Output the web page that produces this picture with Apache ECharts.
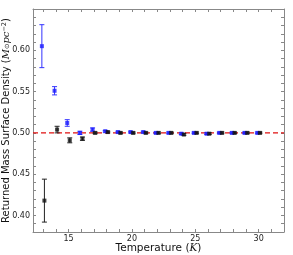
<!DOCTYPE html>
<html><head><meta charset="utf-8">
<script src="https://cdn.jsdelivr.net/npm/echarts@6/dist/echarts.min.js"></script>
<style>html,body{margin:0;padding:0;background:#fff}#c{width:293px;height:255px}</style>
</head><body><div id="c"></div>
<script>
// Data
var blueT   = [12.9,13.9,14.9,15.9,16.9,17.9,18.9,19.9,20.9,21.9,22.9,23.9,24.9,25.9,26.9,27.9,28.9,29.9];
var blueY   = [0.605,0.551,0.512,0.500,0.504,0.502,0.501,0.501,0.501,0.500,0.500,0.499,0.500,0.499,0.500,0.500,0.500,0.500];
var blueErr = [0.026,0.005,0.004,0.002,0.002,0.001,0.001,0.001,0.001,0.001,0.001,0.001,0.001,0.001,0.001,0.001,0.001,0.001];
var blackT   = [13.1,14.1,15.1,16.1,17.1,18.1,19.1,20.1,21.1,22.1,23.1,24.1,25.1,26.1,27.1,28.1,29.1,30.1];
var blackY   = [0.418,0.504,0.491,0.493,0.500,0.501,0.500,0.500,0.500,0.500,0.500,0.498,0.500,0.499,0.500,0.500,0.500,0.500];
var blackErr = [0.026,0.004,0.003,0.002,0.001,0.001,0.001,0.001,0.001,0.001,0.001,0.001,0.001,0.001,0.001,0.001,0.001,0.001];
var refLine = 0.5;
var xTicks = [13,14,15,16,17,18,19,20,21,22,23,24,25,26,27,28,29,30,31];
var xLabels = [15,20,25,30];
var yTicks = [0.39,0.40,0.41,0.42,0.43,0.44,0.45,0.46,0.47,0.48,0.49,0.50,0.51,0.52,0.53,0.54,0.55,0.56,0.57,0.58,0.59,0.60,0.61,0.62,0.63,0.64];
var yLabels = [0.40,0.45,0.50,0.55,0.60];

function errData(t,y,e){return t.map(function(v,i){return [v,y[i],y[i]-e[i],y[i]+e[i]];});}
function errSeries(t,y,e,color){
  return {type:'custom', z:3, data:errData(t,y,e),
    renderItem:function(params,api){
      var x=api.value(0), lo=api.coord([x,api.value(2)]), hi=api.coord([x,api.value(3)]);
      var w=2.5;
      return {type:'group',children:[
        {type:'line',shape:{x1:lo[0],y1:lo[1],x2:hi[0],y2:hi[1]},style:{stroke:color,lineWidth:1}},
        {type:'line',shape:{x1:lo[0]-w,y1:lo[1],x2:lo[0]+w,y2:lo[1]},style:{stroke:color,lineWidth:1}},
        {type:'line',shape:{x1:hi[0]-w,y1:hi[1],x2:hi[0]+w,y2:hi[1]},style:{stroke:color,lineWidth:1}}
      ]};
    }};
}
var font='DejaVu Sans';
var lineC='#888';
var chart=echarts.init(document.getElementById('c'),null,{renderer:'canvas'});
var baseX={type:'value',min:12.2,max:32,
  axisLine:{show:true,onZero:false,lineStyle:{color:lineC,width:1}},
  axisTick:{show:true,inside:true,length:3,customValues:xTicks,lineStyle:{color:lineC}},
  splitLine:{show:false}};
var baseY={type:'value',min:0.38,max:0.65,
  axisLine:{show:true,onZero:false,lineStyle:{color:lineC,width:1}},
  axisTick:{show:true,inside:true,length:3,customValues:yTicks,lineStyle:{color:lineC}},
  splitLine:{show:false}};
chart.setOption({
  animation:false,
  grid:{left:33,right:9,top:9,bottom:23,containLabel:false,outerBoundsMode:'none'},
  xAxis:[
    Object.assign({},baseX,{position:'bottom',
      axisLabel:{customValues:xLabels,color:'#222',fontFamily:font,fontSize:8,margin:3},
      name:'Temperature ({it|K})',nameLocation:'middle',nameGap:11,nameMoveOverlap:false,
      nameTextStyle:{fontFamily:font,fontSize:10.5,color:'#111',
        rich:{it:{fontStyle:'italic',fontFamily:'DejaVu Serif',fontSize:10.5}}}
    }),
    Object.assign({},baseX,{position:'top',axisLabel:{show:false}})
  ],
  yAxis:[
    Object.assign({},baseY,{position:'left',
      axisLabel:{customValues:yLabels,color:'#222',fontFamily:font,fontSize:8,margin:3,
        formatter:function(v){return v.toFixed(2);}},
      name:'Returned Mass Surface Density ({it|M}{sub|⊙}{it|pc}{sup|−2})',
      nameLocation:'middle',nameGap:22,nameMoveOverlap:false,
      nameTextStyle:{fontFamily:font,fontSize:10,color:'#111',
        rich:{it:{fontStyle:'italic',fontFamily:'DejaVu Serif',fontSize:10},
              sub:{fontSize:6.5,verticalAlign:'bottom'},
              sup:{fontSize:6.5,verticalAlign:'top'}}}
    }),
    Object.assign({},baseY,{position:'right',axisLabel:{show:false}})
  ],
  series:[
    {type:'line',data:[[12.2,refLine],[32,refLine]],symbol:'none',z:2,
      lineStyle:{color:'#e01010',type:[5,3],width:1.2},silent:true},
    errSeries(blueT,blueY,blueErr,'#3333ff'),
    errSeries(blackT,blackY,blackErr,'#222'),
    {type:'scatter',z:4,symbol:'rect',symbolSize:4,itemStyle:{color:'#1a1aff'},
      data:blueT.map(function(v,i){return [v,blueY[i]];})},
    {type:'scatter',z:4,symbol:'rect',symbolSize:4,itemStyle:{color:'#111'},
      data:blackT.map(function(v,i){return [v,blackY[i]];})}
  ]
});
</script></body></html>
